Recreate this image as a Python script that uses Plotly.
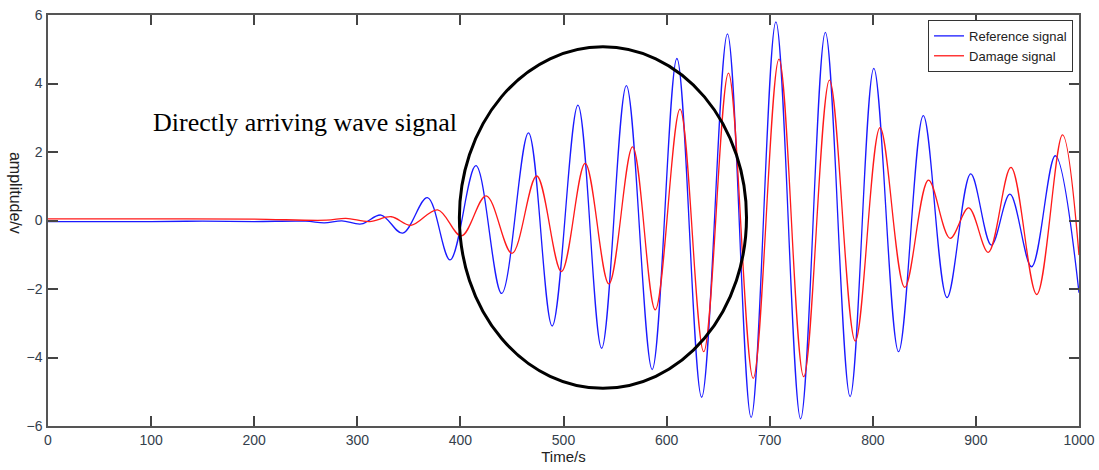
import plotly.graph_objects as go

# Reference signal: sample times (s) and amplitudes (V) at turning points
ref_time = [0, 100, 150, 200, 250, 268, 285, 304, 323, 344, 368, 390, 415, 440,
            466, 489, 514, 537, 561, 586, 610, 634, 659, 682, 706, 730, 754, 778,
            801, 825, 849, 872, 895, 915, 933, 954, 977, 1000]
ref_amp = [-0.03, -0.03, -0.02, -0.03, -0.02, -0.07, -0.01, -0.10, 0.16, -0.37,
           0.67, -1.15, 1.60, -2.13, 2.56, -3.08, 3.37, -3.73, 3.94, -4.35, 4.73,
           -5.16, 5.45, -5.75, 5.80, -5.79, 5.49, -5.14, 4.44, -3.83, 3.06, -2.25,
           1.36, -0.72, 0.77, -1.35, 1.89, -2.11]

# Damage signal
dmg_time = [0, 100, 200, 270, 289, 312, 333, 352, 378, 401, 425, 450, 474, 498,
            521, 544, 567, 589, 613, 636, 660, 684, 709, 733, 758, 783, 807, 831,
            854, 875, 893, 912, 934, 959, 984, 1000]
dmg_amp = [0.05, 0.05, 0.04, 0.01, 0.06, -0.03, 0.11, -0.14, 0.31, -0.45, 0.72,
           -0.96, 1.30, -1.49, 1.67, -1.85, 2.15, -2.61, 3.25, -3.83, 4.30, -4.61,
           4.71, -4.56, 4.10, -3.52, 2.71, -1.95, 1.18, -0.52, 0.37, -0.93, 1.55,
           -2.16, 2.50, -1.01]

x_ticks = [0, 100, 200, 300, 400, 500, 600, 700, 800, 900, 1000]
y_ticks = [-6, -4, -2, 0, 2, 4, 6]

# Highlighted region (direct arrival) in data units
ring_x = (399, 677.5)
ring_y = (-4.9, 5.07)

fig = go.Figure()
fig.add_trace(go.Scatter(x=ref_time, y=ref_amp, mode="lines", name="Reference signal",
                         line=dict(color="#1a1aff", width=1.3, shape="spline", smoothing=1.0)))
fig.add_trace(go.Scatter(x=dmg_time, y=dmg_amp, mode="lines", name="Damage signal",
                         line=dict(color="#ff1a1a", width=1.3, shape="spline", smoothing=1.0)))

fig.add_shape(type="circle", xref="x", yref="y",
              x0=ring_x[0], x1=ring_x[1], y0=ring_y[0], y1=ring_y[1],
              line=dict(color="black", width=3))

fig.add_annotation(x=249, y=2.85, xref="x", yref="y", text="Directly arriving wave signal",
                   showarrow=False, font=dict(family="Liberation Serif", size=26, color="black"))

# Y-axis title reads top-to-bottom
fig.add_annotation(x=-0.032, y=0.567, xref="paper", yref="paper", text="amplitude/v",
                   showarrow=False, textangle=90, xanchor="center", yanchor="middle",
                   font=dict(family="Liberation Sans", size=16, color="#222"))

axis_common = dict(showline=True, linecolor="#555", linewidth=1.5, mirror="ticks",
                   ticks="inside", ticklen=10, tickcolor="#444", tickwidth=1.5,
                   showgrid=False, zeroline=False, automargin=False,
                   tickfont=dict(family="Liberation Sans", size=14, color="#34404c"))

fig.update_xaxes(range=[0, 1000], tickvals=x_ticks, **axis_common,
                 title=dict(text="Time/s", standoff=2,
                            font=dict(family="Liberation Sans", size=15, color="#222")))
fig.update_yaxes(range=[-6, 6], tickvals=y_ticks, ticklabelstandoff=1, **axis_common)

fig.update_layout(
    width=1099, height=470,
    margin=dict(l=48, r=20, t=15, b=44),
    plot_bgcolor="white", paper_bgcolor="white",
    showlegend=True,
    legend=dict(x=0.9942, y=0.988, xanchor="right", yanchor="top",
                bgcolor="white", bordercolor="#333", borderwidth=1,
                font=dict(family="Liberation Sans", size=13, color="#222"),
                tracegroupgap=0, itemwidth=30),
)

fig.write_html("out.html")
